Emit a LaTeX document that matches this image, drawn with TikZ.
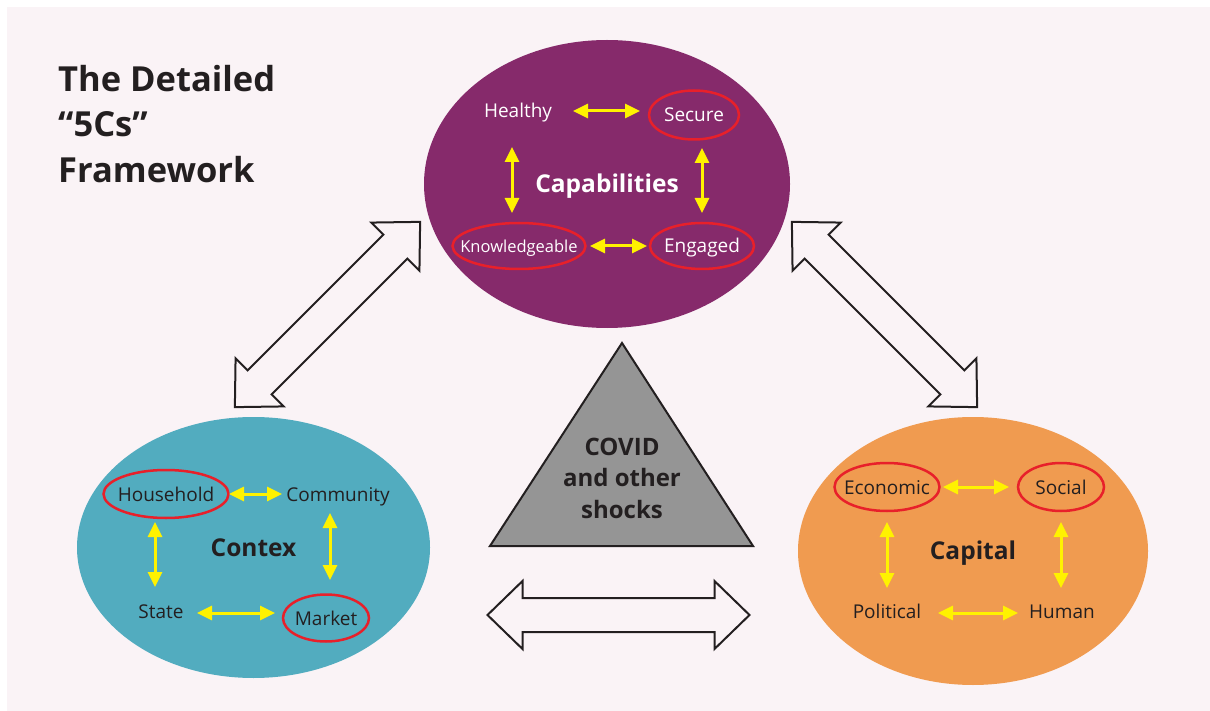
\documentclass[tikz,border=0pt]{standalone}
\usepackage{fontspec}
\setmainfont{Open Sans}
\usetikzlibrary{arrows.meta,shapes.geometric}
\definecolor{bgpink}{HTML}{FAF3F6}
\definecolor{purp}{HTML}{862A6B}
\definecolor{teal}{HTML}{52ACBF}
\definecolor{orng}{HTML}{F09B50}
\definecolor{shockgray}{HTML}{959595}
\definecolor{yel}{HTML}{FFF200}
\definecolor{ringred}{HTML}{E8202A}
\definecolor{ink}{HTML}{231F20}
\begin{document}
\begin{tikzpicture}[x=1pt, y=-1pt,
        item/.style={font=\fontsize{19}{23}\selectfont, text height=14pt, text depth=0pt, inner sep=0pt},
        ring/.style={draw=ringred, line width=2.5pt},
        yarrow/.style={draw=yel, line width=3pt, {Triangle[length=15pt,width=14pt]}-{Triangle[length=15pt,width=14pt]}},
        blob/.style={ellipse, inner sep=0pt, text=ink, font=\fontsize{24.5}{29}\selectfont\bfseries, text height=17.5pt, text depth=0pt},
        block/.style={draw=ink, line width=2pt, line join=miter}]
            \useasboundingbox (0,0) rectangle (1210,711);
            \fill[bgpink] (7,7) rectangle (1210,711);

            \node[anchor=north west, align=left, inner sep=0pt, text=ink, font=\fontsize{34.5}{45.5}\selectfont\bfseries] (title) at (58,65) {The Detailed\\“5Cs”\\Framework};

            \node[blob, fill=purp, text=white, minimum width=366pt, minimum height=288pt] (capab) at (607,184) {Capabilities};
            \node[blob, fill=teal, minimum width=353pt, minimum height=261pt] (contex) at (253.5,547.5) {Contex};
            \node[blob, fill=orng, minimum width=350pt, minimum height=268pt] (capital) at (973,551) {Capital};

            \foreach \px/\py/\ang in {327.5/314.5/45, 884.5/314.5/-45, 618.5/615/0}
            {
                \begin{scope}[shift={(\px,\py)}, rotate=\ang]
                    \draw[block] (-131,0) -- (-96,-34) -- (-96,-17) -- (96,-17) -- (96,-34) -- (131,0) -- (96,34) -- (96,17) -- (-96,17) -- (-96,34) -- cycle;
                \end{scope}
            }

            \draw[fill=shockgray, draw=ink, line width=2pt] (622,343) -- (753,546) -- (490,546) -- cycle;
            \node[align=center, inner sep=0pt, text=ink, font=\fontsize{24}{31.5}\selectfont\bfseries] (shock) at (622,478) {COVID\\and other\\shocks};

            \node[item, text=white] (healthy) at (518,111) {Healthy};
            \node[item, text=white] (secure) at (694,115) {Secure};
            \node[item, text=white, font=\fontsize{16.5}{20}\selectfont] (knowl) at (519,246) {Knowledgeable};
            \node[item, text=white] (engaged) at (702,246) {Engaged};
            \draw[ring] (secure) ellipse [x radius=45, y radius=24.5];
            \draw[ring] (knowl) ellipse [x radius=66.5, y radius=23];
            \draw[ring] (engaged) ellipse [x radius=52, y radius=23];
            \draw[yarrow, shorten <=55pt, shorten >=54pt] (healthy.center) -- (healthy.center -| secure.center);
            \draw[yarrow, shorten <=36pt, shorten >=33pt] ([xshift=-6pt]healthy.center) -- ([xshift=-7pt]knowl.center);
            \draw[yarrow, shorten <=33pt, shorten >=33pt] (secure.center -| engaged.center) -- (engaged.center);
            \draw[yarrow, shorten <=71pt, shorten >=55pt] (knowl.center) -- (engaged.center);

            \node[item, text=ink] (household) at (166,494) {Household};
            \node[item, text=ink] (community) at (338,494) {Community};
            \node[item, text=ink] (state) at (161,611) {State};
            \node[item, text=ink] (market) at (326,618) {Market};
            \draw[ring] (household) ellipse [x radius=62.5, y radius=24];
            \draw[ring] (market) ellipse [x radius=43, y radius=23.5];
            \draw[yarrow, shorten <=63pt, shorten >=56pt] (household.center) -- (household.center -| community.center);
            \draw[yarrow, shorten <=28pt, shorten >=24pt] ([xshift=-11pt]household.center) -- ([xshift=-6pt]state.center);
            \draw[yarrow, shorten <=19pt, shorten >=38pt] ([xshift=-8pt]community.center) -- ([xshift=4pt]market.center);
            \draw[yarrow, shorten <=36pt, shorten >=51pt] ([yshift=-2pt]state.center) -- ([yshift=-2pt]state.center -| market.center);

            \node[item, text=ink] (economic) at (887,487) {Economic};
            \node[item, text=ink] (social) at (1061,487) {Social};
            \node[item, text=ink] (political) at (887,611) {Political};
            \node[item, text=ink] (human) at (1062,611) {Human};
            \draw[ring] (economic) ellipse [x radius=52.5, y radius=24];
            \draw[ring] (social) ellipse [x radius=43, y radius=24];
            \draw[yarrow, shorten <=56pt, shorten >=52pt] (economic.center) -- (social.center);
            \draw[yarrow, shorten <=35pt, shorten >=23pt] (economic.center) -- (political.center);
            \draw[yarrow, shorten <=35pt, shorten >=23pt] (social.center) -- (social.center |- human.center);
            \draw[yarrow, shorten <=51pt, shorten >=44pt] ([yshift=-2pt]political.center) -- ([yshift=-2pt]human.center);
        \end{tikzpicture}
\end{document}
